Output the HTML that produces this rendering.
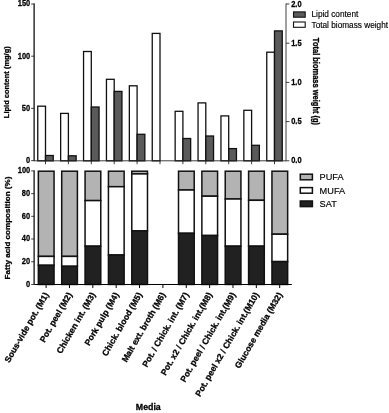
<!DOCTYPE html>
<html><head><meta charset="utf-8"><title>Chart</title>
<style>html,body{margin:0;padding:0;background:#fff}text{stroke:#000;stroke-width:.28px;paint-order:stroke}text.r{stroke-width:.15px}svg{display:block;will-change:transform;filter:blur(0.25px)}</style></head>
<body>
<svg width="389" height="413" viewBox="0 0 389 413" font-family='"Liberation Sans", sans-serif'>
<rect width="389" height="413" fill="#fff"/>
<rect x="37.75" y="106.20" width="7.75" height="54.60" fill="#fff" stroke="#111" stroke-width="1.3"/>
<rect x="45.50" y="155.50" width="7.75" height="5.30" fill="#5a5a5a" stroke="#111" stroke-width="1.3"/>
<rect x="60.65" y="113.40" width="7.75" height="47.40" fill="#fff" stroke="#111" stroke-width="1.3"/>
<rect x="68.40" y="155.80" width="7.75" height="5.00" fill="#5a5a5a" stroke="#111" stroke-width="1.3"/>
<rect x="83.55" y="51.50" width="7.75" height="109.30" fill="#fff" stroke="#111" stroke-width="1.3"/>
<rect x="91.30" y="107.00" width="7.75" height="53.80" fill="#5a5a5a" stroke="#111" stroke-width="1.3"/>
<rect x="106.45" y="79.30" width="7.75" height="81.50" fill="#fff" stroke="#111" stroke-width="1.3"/>
<rect x="114.20" y="91.40" width="7.75" height="69.40" fill="#5a5a5a" stroke="#111" stroke-width="1.3"/>
<rect x="129.35" y="85.80" width="7.75" height="75.00" fill="#fff" stroke="#111" stroke-width="1.3"/>
<rect x="137.10" y="134.30" width="7.75" height="26.50" fill="#5a5a5a" stroke="#111" stroke-width="1.3"/>
<rect x="152.25" y="33.40" width="7.75" height="127.40" fill="#fff" stroke="#111" stroke-width="1.3"/>
<rect x="175.15" y="111.30" width="7.75" height="49.50" fill="#fff" stroke="#111" stroke-width="1.3"/>
<rect x="182.90" y="138.50" width="7.75" height="22.30" fill="#5a5a5a" stroke="#111" stroke-width="1.3"/>
<rect x="198.05" y="102.90" width="7.75" height="57.90" fill="#fff" stroke="#111" stroke-width="1.3"/>
<rect x="205.80" y="136.00" width="7.75" height="24.80" fill="#5a5a5a" stroke="#111" stroke-width="1.3"/>
<rect x="220.95" y="115.90" width="7.75" height="44.90" fill="#fff" stroke="#111" stroke-width="1.3"/>
<rect x="228.70" y="148.60" width="7.75" height="12.20" fill="#5a5a5a" stroke="#111" stroke-width="1.3"/>
<rect x="243.85" y="110.30" width="7.75" height="50.50" fill="#fff" stroke="#111" stroke-width="1.3"/>
<rect x="251.60" y="145.30" width="7.75" height="15.50" fill="#5a5a5a" stroke="#111" stroke-width="1.3"/>
<rect x="266.75" y="52.20" width="7.75" height="108.60" fill="#fff" stroke="#111" stroke-width="1.3"/>
<rect x="274.50" y="30.90" width="7.75" height="129.90" fill="#5a5a5a" stroke="#111" stroke-width="1.3"/>
<g stroke="#2a2a2a" stroke-width="0.9" fill="none">
<path d="M34.15 3.6V160.8" stroke="#4a4a4a" stroke-width="1.7"/>
<path d="M33.7 160.8H286.0"/>
<path d="M286.0 161.20000000000002V3.6"/>
<path d="M31.200000000000003 4.00H34.6"/>
<path d="M31.200000000000003 56.20H34.6"/>
<path d="M31.200000000000003 108.40H34.6"/>
<path d="M31.200000000000003 160.60H34.6"/>
<path d="M286.0 4.00h3.4"/>
<path d="M286.0 43.20h3.4"/>
<path d="M286.0 82.40h3.4"/>
<path d="M286.0 121.60h3.4"/>
<path d="M286.0 160.80h3.4"/>
<path d="M45.50 160.8v3.4"/>
<path d="M68.40 160.8v3.4"/>
<path d="M91.30 160.8v3.4"/>
<path d="M114.20 160.8v3.4"/>
<path d="M137.10 160.8v3.4"/>
<path d="M160.00 160.8v3.4"/>
<path d="M182.90 160.8v3.4"/>
<path d="M205.80 160.8v3.4"/>
<path d="M228.70 160.8v3.4"/>
<path d="M251.60 160.8v3.4"/>
<path d="M274.50 160.8v3.4"/>
</g>
<g font-size="8.7" font-weight="bold" fill="#000">
<text transform="translate(30.2 6.45) scale(0.86 1)" text-anchor="end">150</text>
<text transform="translate(30.2 58.65) scale(0.86 1)" text-anchor="end">100</text>
<text transform="translate(30.2 110.85) scale(0.86 1)" text-anchor="end">50</text>
<text transform="translate(30.2 163.05) scale(0.86 1)" text-anchor="end">0</text>
<text transform="translate(291.2 6.65) scale(0.86 1)">2.0</text>
<text transform="translate(291.2 45.85) scale(0.86 1)">1.5</text>
<text transform="translate(291.2 85.05) scale(0.86 1)">1.0</text>
<text transform="translate(291.2 124.25) scale(0.86 1)">0.5</text>
<text transform="translate(291.2 163.45) scale(0.86 1)">0.0</text>
</g>
<text transform="translate(8.9 82.2) rotate(-90) scale(1 1.05)" font-size="7.5" font-weight="bold" text-anchor="middle">Lipid content (mg/g)</text>
<text transform="translate(313.1 81.5) rotate(90) scale(1 1.14)" font-size="7.5" font-weight="bold" text-anchor="middle">Total biomass weight (g)</text>
<rect x="293.5" y="11.9" width="11.7" height="5.3" fill="#5a5a5a" stroke="#111" stroke-width="1.1"/>
<rect x="293.5" y="22.0" width="11.7" height="5.3" fill="#fff" stroke="#111" stroke-width="1.1"/>
<text class="r" x="311.5" y="17.4" font-size="8.25">Lipid content</text>
<text class="r" x="311.5" y="27.6" font-size="8.25">Total biomass weight</text>
<rect x="38.35" y="171.20000000000002" width="15.70" height="113.25" fill="#fff"/>
<rect x="38.35" y="171.20000000000002" width="15.70" height="85.20" fill="#b3b3b3" stroke="#111" stroke-width="1.5"/>
<rect x="38.35" y="256.4" width="15.70" height="8.90" fill="#fff" stroke="#111" stroke-width="1.5"/>
<rect x="38.35" y="265.3" width="15.70" height="19.15" fill="#212121" stroke="#111" stroke-width="1.5"/>
<rect x="61.71" y="171.20000000000002" width="15.70" height="113.25" fill="#fff"/>
<rect x="61.71" y="171.20000000000002" width="15.70" height="85.20" fill="#b3b3b3" stroke="#111" stroke-width="1.5"/>
<rect x="61.71" y="256.4" width="15.70" height="9.90" fill="#fff" stroke="#111" stroke-width="1.5"/>
<rect x="61.71" y="266.3" width="15.70" height="18.15" fill="#212121" stroke="#111" stroke-width="1.5"/>
<rect x="85.07" y="171.20000000000002" width="15.70" height="113.25" fill="#fff"/>
<rect x="85.07" y="171.20000000000002" width="15.70" height="29.40" fill="#b3b3b3" stroke="#111" stroke-width="1.5"/>
<rect x="85.07" y="200.6" width="15.70" height="45.60" fill="#fff" stroke="#111" stroke-width="1.5"/>
<rect x="85.07" y="246.2" width="15.70" height="38.25" fill="#212121" stroke="#111" stroke-width="1.5"/>
<rect x="108.43" y="171.20000000000002" width="15.70" height="113.25" fill="#fff"/>
<rect x="108.43" y="171.20000000000002" width="15.70" height="15.50" fill="#b3b3b3" stroke="#111" stroke-width="1.5"/>
<rect x="108.43" y="186.7" width="15.70" height="68.30" fill="#fff" stroke="#111" stroke-width="1.5"/>
<rect x="108.43" y="255.0" width="15.70" height="29.45" fill="#212121" stroke="#111" stroke-width="1.5"/>
<rect x="131.79" y="171.20000000000002" width="15.70" height="113.25" fill="#fff"/>
<rect x="131.79" y="171.20000000000002" width="15.70" height="2.70" fill="#b3b3b3" stroke="#111" stroke-width="1.5"/>
<rect x="131.79" y="173.9" width="15.70" height="57.00" fill="#fff" stroke="#111" stroke-width="1.5"/>
<rect x="131.79" y="230.9" width="15.70" height="53.55" fill="#212121" stroke="#111" stroke-width="1.5"/>
<rect x="178.51" y="171.20000000000002" width="15.70" height="113.25" fill="#fff"/>
<rect x="178.51" y="171.20000000000002" width="15.70" height="18.80" fill="#b3b3b3" stroke="#111" stroke-width="1.5"/>
<rect x="178.51" y="190.0" width="15.70" height="43.30" fill="#fff" stroke="#111" stroke-width="1.5"/>
<rect x="178.51" y="233.3" width="15.70" height="51.15" fill="#212121" stroke="#111" stroke-width="1.5"/>
<rect x="201.87" y="171.20000000000002" width="15.70" height="113.25" fill="#fff"/>
<rect x="201.87" y="171.20000000000002" width="15.70" height="25.00" fill="#b3b3b3" stroke="#111" stroke-width="1.5"/>
<rect x="201.87" y="196.2" width="15.70" height="39.30" fill="#fff" stroke="#111" stroke-width="1.5"/>
<rect x="201.87" y="235.5" width="15.70" height="48.95" fill="#212121" stroke="#111" stroke-width="1.5"/>
<rect x="225.23" y="171.20000000000002" width="15.70" height="113.25" fill="#fff"/>
<rect x="225.23" y="171.20000000000002" width="15.70" height="27.80" fill="#b3b3b3" stroke="#111" stroke-width="1.5"/>
<rect x="225.23" y="199.0" width="15.70" height="47.20" fill="#fff" stroke="#111" stroke-width="1.5"/>
<rect x="225.23" y="246.2" width="15.70" height="38.25" fill="#212121" stroke="#111" stroke-width="1.5"/>
<rect x="248.59" y="171.20000000000002" width="15.70" height="113.25" fill="#fff"/>
<rect x="248.59" y="171.20000000000002" width="15.70" height="29.10" fill="#b3b3b3" stroke="#111" stroke-width="1.5"/>
<rect x="248.59" y="200.3" width="15.70" height="45.90" fill="#fff" stroke="#111" stroke-width="1.5"/>
<rect x="248.59" y="246.2" width="15.70" height="38.25" fill="#212121" stroke="#111" stroke-width="1.5"/>
<rect x="271.95" y="171.20000000000002" width="15.70" height="113.25" fill="#fff"/>
<rect x="271.95" y="171.20000000000002" width="15.70" height="63.00" fill="#b3b3b3" stroke="#111" stroke-width="1.5"/>
<rect x="271.95" y="234.2" width="15.70" height="27.40" fill="#fff" stroke="#111" stroke-width="1.5"/>
<rect x="271.95" y="261.6" width="15.70" height="22.85" fill="#212121" stroke="#111" stroke-width="1.5"/>
<g stroke="#2a2a2a" stroke-width="0.9" fill="none">
<path d="M34.15 170.5V284.45" stroke="#4a4a4a" stroke-width="1.7"/>
<path d="M34.2 284.45H291.8" stroke="#000" stroke-width="1.05"/>
<path d="M31.200000000000003 170.90H34.6"/>
<path d="M31.200000000000003 193.61H34.6"/>
<path d="M31.200000000000003 216.32H34.6"/>
<path d="M31.200000000000003 239.03H34.6"/>
<path d="M31.200000000000003 261.74H34.6"/>
<path d="M31.200000000000003 284.45H34.6"/>
<path d="M46.10 284.45v3.6" stroke="#000" stroke-width="1"/>
<path d="M69.46 284.45v3.6" stroke="#000" stroke-width="1"/>
<path d="M92.82 284.45v3.6" stroke="#000" stroke-width="1"/>
<path d="M116.18 284.45v3.6" stroke="#000" stroke-width="1"/>
<path d="M139.54 284.45v3.6" stroke="#000" stroke-width="1"/>
<path d="M162.90 284.45v3.6" stroke="#000" stroke-width="1"/>
<path d="M186.26 284.45v3.6" stroke="#000" stroke-width="1"/>
<path d="M209.62 284.45v3.6" stroke="#000" stroke-width="1"/>
<path d="M232.98 284.45v3.6" stroke="#000" stroke-width="1"/>
<path d="M256.34 284.45v3.6" stroke="#000" stroke-width="1"/>
<path d="M279.70 284.45v3.6" stroke="#000" stroke-width="1"/>
</g>
<g font-size="8.7" font-weight="bold" fill="#000">
<text transform="translate(30.2 173.35) scale(0.86 1)" text-anchor="end">100</text>
<text transform="translate(30.2 196.06) scale(0.86 1)" text-anchor="end">80</text>
<text transform="translate(30.2 218.77) scale(0.86 1)" text-anchor="end">60</text>
<text transform="translate(30.2 241.48) scale(0.86 1)" text-anchor="end">40</text>
<text transform="translate(30.2 264.19) scale(0.86 1)" text-anchor="end">20</text>
<text transform="translate(30.2 286.90) scale(0.86 1)" text-anchor="end">0</text>
</g>
<text transform="translate(9.8 228.0) rotate(-90)" font-size="8.08" font-weight="bold" text-anchor="middle">Fatty acid composition (%)</text>
<rect x="300.3" y="174.20" width="12.1" height="5.6" fill="#b3b3b3" stroke="#111" stroke-width="1.5"/>
<text x="319.6" y="180.40" font-size="9.2" class="r">PUFA</text>
<rect x="300.3" y="187.60" width="12.1" height="5.6" fill="#fff" stroke="#111" stroke-width="1.5"/>
<text x="319.6" y="193.80" font-size="9.2" class="r">MUFA</text>
<rect x="300.3" y="201.00" width="12.1" height="5.6" fill="#212121" stroke="#111" stroke-width="1.5"/>
<text x="319.6" y="207.20" font-size="9.2" class="r">SAT</text>
<g font-size="8.6" font-weight="bold" fill="#000" text-anchor="end">
<text transform="translate(49.00 294.6) rotate(-60)">Sous-vide pot. (M1)</text>
<text transform="translate(72.36 294.6) rotate(-60)">Pot. peel (M2)</text>
<text transform="translate(95.72 294.6) rotate(-60)">Chicken int. (M3)</text>
<text transform="translate(119.08 294.6) rotate(-60)">Pork pulp (M4)</text>
<text transform="translate(142.44 294.6) rotate(-60)">Chick. blood (M5)</text>
<text transform="translate(165.80 294.6) rotate(-60)">Malt ext. broth (M6)</text>
<text transform="translate(189.16 294.6) rotate(-60)">Pot. / Chick. int. (M7)</text>
<text transform="translate(212.52 294.6) rotate(-60)">Pot. x2 / Chick. int.(M8)</text>
<text transform="translate(235.88 294.6) rotate(-60)">Pot. peel / Chick. int.(M9)</text>
<text transform="translate(259.24 294.6) rotate(-60)">Pot. peel x2 / Chick. int.(M10)</text>
<text transform="translate(282.60 294.6) rotate(-60)">Glucose media (M32)</text>
</g>
<text x="148.3" y="410.3" font-size="8.8" font-weight="bold" text-anchor="middle">Media</text>
</svg>
</body></html>
